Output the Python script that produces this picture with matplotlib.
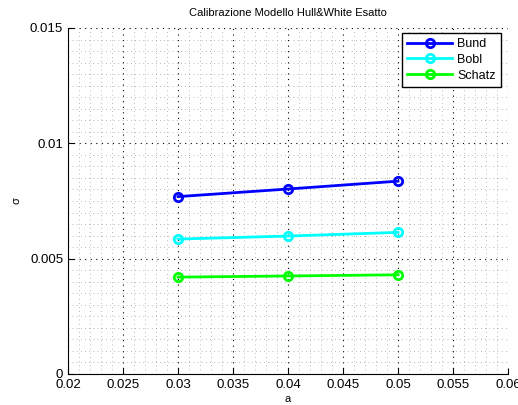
import matplotlib
matplotlib.use("Agg")
import matplotlib.pyplot as plt
import numpy as np

plt.rcParams['font.family'] = ['Liberation Sans', 'DejaVu Sans']

a = [0.03, 0.04, 0.05]
bund = [0.00769, 0.00802, 0.00836]
bobl = [0.00585, 0.00598, 0.00614]
schatz = [0.00420, 0.00425, 0.00430]
series = [("Bund", bund, "#0000ff"), ("Bobl", bobl, "#00ffff"), ("Schatz", schatz, "#00ff00")]
xticks = [0.02, 0.025, 0.03, 0.035, 0.04, 0.045, 0.05, 0.055, 0.06]
xticklabels = ['0.02', '0.025', '0.03', '0.035', '0.04', '0.045', '0.05', '0.055', '0.06']
yticks = [0, 0.005, 0.01, 0.015]
yticklabels = ['0', '0.005', '0.01', '0.015']

fig = plt.figure(figsize=(5.18, 4.05), dpi=100)
ax = fig.add_axes([68/518, 31/405, 440/518, 346/405])

for name, vals, c in series:
    ax.plot(a, vals, '-o', color=c, lw=2, ms=6, mfc='none', mew=2, label=name)

ax.set_xlim(0.02, 0.06)
ax.set_ylim(0, 0.015)
ax.set_xticks(xticks)
ax.set_xticklabels(xticklabels)
ax.set_yticks(yticks)
ax.set_yticklabels(yticklabels)
ax.set_xticks(np.arange(0.021, 0.06, 0.001), minor=True)
ax.set_yticks(np.arange(0.0005, 0.015, 0.0005), minor=True)
ax.grid(True, which='major', linestyle=(0, (1, 4)), color='black', lw=0.8)
ax.grid(True, which='minor', linestyle=(0, (1, 5)), color='#777777', lw=0.5)
ax.set_axisbelow(True)
ax.spines['top'].set_visible(False)
ax.spines['right'].set_visible(False)
ax.tick_params(which='major', direction='in', length=4, labelsize=9.5, width=0.8)
ax.tick_params(which='minor', length=0)
ax.set_title('Calibrazione Modello Hull&White Esatto', fontsize=8, pad=9)
ax.set_xlabel('a', fontsize=8, labelpad=2)
ax.set_ylabel('σ', fontsize=8, labelpad=6)

leg = ax.legend(loc='upper right', bbox_to_anchor=(0.984, 0.9855), borderaxespad=0,
                fontsize=9, fancybox=False, edgecolor='black',
                framealpha=1, handlelength=3.6, handletextpad=0.4, labelspacing=0.3,
                borderpad=0.4)
leg.get_frame().set_linewidth(1)

fig.savefig('out.png', dpi=100)
